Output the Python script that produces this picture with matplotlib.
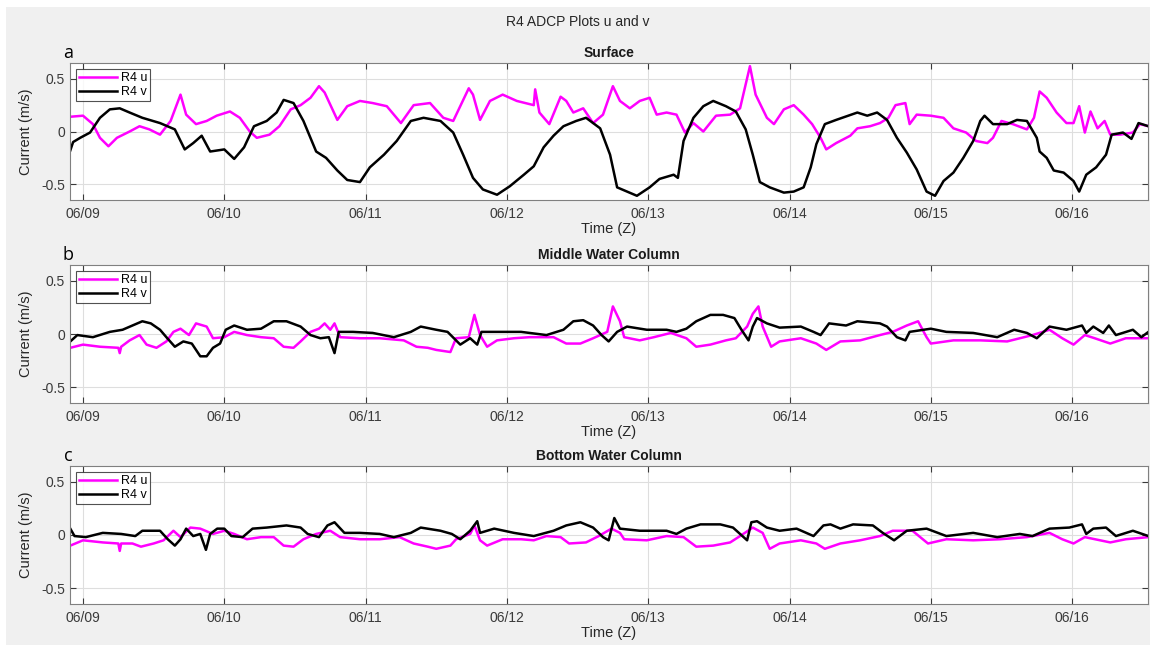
import numpy as np
import matplotlib
matplotlib.use("Agg")
import matplotlib.pyplot as plt
from matplotlib.patches import Rectangle

plt.rcParams['font.family'] = ['Liberation Sans', 'DejaVu Sans']

# time is in days after 06/09 00:00 (Z)
day_ticks = [0, 1, 2, 3, 4, 5, 6, 7]
day_labels = ["06/09", "06/10", "06/11", "06/12", "06/13", "06/14", "06/15", "06/16"]

panel_letters = ["a", "b", "c"]
panel_titles = ["Surface", "Middle Water Column", "Bottom Water Column"]

# (day, current m/s)
surf_u = [(-0.09, 0.14), (0.0, 0.15), (0.07, 0.07), (0.12, -0.06), (0.18, -0.14), (0.24, -0.06),
          (0.33, 0.0), (0.40, 0.05), (0.47, 0.02), (0.545, -0.03), (0.62, 0.10), (0.69, 0.35),
          (0.73, 0.16), (0.80, 0.07), (0.875, 0.10), (0.946, 0.15), (1.04, 0.19), (1.11, 0.13),
          (1.18, 0.0), (1.23, -0.06), (1.32, -0.03), (1.39, 0.05), (1.47, 0.21), (1.54, 0.25),
          (1.61, 0.32), (1.67, 0.43), (1.71, 0.37), (1.80, 0.11), (1.87, 0.24), (1.96, 0.29),
          (2.05, 0.27), (2.15, 0.24), (2.25, 0.08), (2.34, 0.25), (2.456, 0.27), (2.55, 0.13),
          (2.62, 0.10), (2.73, 0.41), (2.76, 0.35), (2.81, 0.11), (2.88, 0.29), (2.97, 0.35),
          (3.07, 0.29), (3.19, 0.25), (3.20, 0.40), (3.23, 0.18), (3.30, 0.07), (3.38, 0.33),
          (3.42, 0.29), (3.47, 0.18), (3.54, 0.22), (3.61, 0.08), (3.68, 0.16), (3.75, 0.43),
          (3.80, 0.29), (3.87, 0.22), (3.94, 0.29), (4.01, 0.32), (4.06, 0.16), (4.13, 0.18),
          (4.20, 0.16), (4.26, -0.01), (4.32, 0.08), (4.39, 0.0), (4.48, 0.15), (4.58, 0.16),
          (4.65, 0.22), (4.72, 0.62), (4.76, 0.35), (4.84, 0.13), (4.89, 0.07), (4.96, 0.21),
          (5.03, 0.25), (5.10, 0.16), (5.16, 0.07), (5.22, -0.06), (5.26, -0.17), (5.33, -0.11),
          (5.43, -0.04), (5.48, 0.03), (5.57, 0.05), (5.64, 0.08), (5.70, 0.13), (5.75, 0.25),
          (5.82, 0.27), (5.85, 0.07), (5.90, 0.16), (6.00, 0.15), (6.09, 0.13), (6.16, 0.03),
          (6.25, -0.01), (6.32, -0.09), (6.40, -0.11), (6.44, -0.06), (6.50, 0.10), (6.58, 0.07),
          (6.68, 0.02), (6.73, 0.13), (6.77, 0.38), (6.82, 0.32), (6.89, 0.18), (6.96, 0.08),
          (7.01, 0.08), (7.05, 0.24), (7.09, -0.01), (7.13, 0.19), (7.18, 0.03), (7.23, 0.10),
          (7.27, -0.03), (7.34, -0.03), (7.43, -0.01), (7.48, 0.07), (7.54, 0.05)]

surf_v = [(-0.09, -0.18), (-0.07, -0.10), (-0.02, -0.06), (0.05, -0.01), (0.12, 0.13), (0.19, 0.21),
          (0.26, 0.22), (0.33, 0.18), (0.42, 0.13), (0.545, 0.08), (0.65, 0.02), (0.72, -0.17),
          (0.78, -0.11), (0.84, -0.04), (0.90, -0.19), (1.0, -0.17), (1.07, -0.26), (1.14, -0.15),
          (1.21, 0.05), (1.30, 0.10), (1.37, 0.18), (1.42, 0.30), (1.49, 0.27), (1.56, 0.10),
          (1.65, -0.19), (1.72, -0.25), (1.80, -0.37), (1.87, -0.46), (1.96, -0.48), (2.03, -0.34),
          (2.13, -0.22), (2.22, -0.09), (2.32, 0.10), (2.41, 0.13), (2.53, 0.10), (2.62, -0.01),
          (2.69, -0.22), (2.76, -0.44), (2.83, -0.55), (2.93, -0.60), (3.02, -0.52), (3.12, -0.41),
          (3.19, -0.33), (3.26, -0.15), (3.33, -0.04), (3.40, 0.05), (3.49, 0.10), (3.56, 0.13),
          (3.66, 0.03), (3.73, -0.22), (3.78, -0.53), (3.85, -0.57), (3.92, -0.61), (4.01, -0.53),
          (4.08, -0.45), (4.18, -0.41), (4.21, -0.44), (4.25, -0.09), (4.32, 0.13), (4.39, 0.24),
          (4.46, 0.29), (4.55, 0.24), (4.62, 0.19), (4.69, 0.02), (4.74, -0.22), (4.79, -0.48),
          (4.86, -0.53), (4.96, -0.58), (5.03, -0.57), (5.10, -0.53), (5.15, -0.34), (5.19, -0.12),
          (5.25, 0.07), (5.33, 0.11), (5.48, 0.18), (5.55, 0.15), (5.62, 0.18), (5.69, 0.11),
          (5.76, -0.06), (5.83, -0.20), (5.90, -0.36), (5.97, -0.57), (6.03, -0.61), (6.09, -0.47),
          (6.16, -0.39), (6.23, -0.25), (6.30, -0.09), (6.35, 0.10), (6.38, 0.15), (6.44, 0.07),
          (6.54, 0.07), (6.61, 0.11), (6.68, 0.10), (6.75, -0.06), (6.77, -0.19), (6.82, -0.25),
          (6.87, -0.37), (6.94, -0.39), (7.01, -0.47), (7.05, -0.57), (7.10, -0.41), (7.17, -0.34),
          (7.24, -0.22), (7.28, -0.03), (7.36, -0.01), (7.42, -0.07), (7.47, 0.08), (7.54, 0.05)]

mid_u = [(-0.09, -0.13), (0.0, -0.10), (0.12, -0.12), (0.25, -0.13), (0.26, -0.18), (0.27, -0.12),
         (0.33, -0.06), (0.40, -0.01), (0.45, -0.10), (0.52, -0.13), (0.59, -0.07), (0.64, 0.02),
         (0.69, 0.05), (0.75, -0.01), (0.80, 0.10), (0.875, 0.07), (0.92, -0.04), (1.0, -0.03),
         (1.07, 0.02), (1.16, -0.01), (1.26, -0.03), (1.35, -0.04), (1.42, -0.12), (1.49, -0.13),
         (1.54, -0.07), (1.61, 0.02), (1.67, 0.05), (1.71, 0.10), (1.75, 0.04), (1.78, 0.10),
         (1.82, -0.03), (1.96, -0.04), (2.10, -0.04), (2.27, -0.06), (2.36, -0.12), (2.44, -0.13),
         (2.50, -0.15), (2.60, -0.17), (2.64, -0.04), (2.73, -0.03), (2.77, 0.18), (2.81, -0.01),
         (2.86, -0.12), (2.93, -0.06), (3.05, -0.04), (3.16, -0.03), (3.33, -0.03), (3.42, -0.09),
         (3.52, -0.09), (3.61, -0.04), (3.71, 0.02), (3.75, 0.26), (3.80, 0.12), (3.83, -0.03),
         (3.94, -0.06), (4.04, -0.03), (4.16, 0.01), (4.27, -0.04), (4.34, -0.12), (4.44, -0.10),
         (4.55, -0.06), (4.62, -0.04), (4.70, 0.07), (4.74, 0.19), (4.78, 0.26), (4.81, 0.07),
         (4.87, -0.12), (4.93, -0.07), (5.08, -0.04), (5.19, -0.09), (5.26, -0.15), (5.36, -0.07),
         (5.50, -0.06), (5.64, -0.01), (5.73, 0.02), (5.83, 0.08), (5.91, 0.12), (5.97, -0.03),
         (6.0, -0.09), (6.16, -0.06), (6.35, -0.06), (6.54, -0.07), (6.72, -0.01), (6.84, 0.04),
         (6.93, -0.04), (7.01, -0.10), (7.09, -0.01), (7.16, -0.04), (7.27, -0.09), (7.38, -0.04),
         (7.54, -0.04)]

mid_v = [(-0.09, -0.07), (-0.04, -0.01), (0.07, -0.03), (0.19, 0.02), (0.28, 0.04), (0.35, 0.08),
         (0.42, 0.12), (0.48, 0.10), (0.545, 0.04), (0.59, -0.03), (0.65, -0.12), (0.71, -0.07),
         (0.77, -0.09), (0.83, -0.21), (0.875, -0.21), (0.92, -0.13), (0.97, -0.09), (1.01, 0.04),
         (1.07, 0.08), (1.16, 0.04), (1.26, 0.05), (1.35, 0.12), (1.44, 0.12), (1.54, 0.07),
         (1.61, -0.01), (1.68, -0.04), (1.74, -0.03), (1.78, -0.18), (1.81, 0.02), (1.91, 0.02),
         (2.05, 0.01), (2.20, -0.03), (2.32, 0.02), (2.39, 0.07), (2.50, 0.04), (2.58, 0.02),
         (2.67, -0.10), (2.74, -0.04), (2.79, -0.10), (2.82, 0.02), (2.98, 0.02), (3.10, 0.02),
         (3.28, -0.01), (3.40, 0.04), (3.47, 0.12), (3.54, 0.13), (3.61, 0.08), (3.67, -0.01),
         (3.72, -0.07), (3.78, 0.02), (3.85, 0.07), (3.99, 0.04), (4.13, 0.04), (4.20, 0.02),
         (4.27, 0.05), (4.34, 0.12), (4.44, 0.18), (4.53, 0.18), (4.61, 0.15), (4.66, 0.04),
         (4.71, -0.06), (4.74, 0.07), (4.77, 0.15), (4.84, 0.10), (4.93, 0.06), (5.08, 0.07),
         (5.17, 0.02), (5.22, -0.01), (5.28, 0.10), (5.40, 0.08), (5.48, 0.12), (5.64, 0.10),
         (5.69, 0.07), (5.76, -0.03), (5.82, -0.06), (5.85, 0.02), (6.0, 0.05), (6.11, 0.02),
         (6.30, 0.01), (6.47, -0.03), (6.59, 0.04), (6.68, 0.01), (6.75, -0.04), (6.84, 0.07),
         (6.96, 0.04), (7.07, 0.08), (7.10, 0.01), (7.15, 0.07), (7.22, 0.01), (7.26, 0.08),
         (7.31, -0.01), (7.43, 0.04), (7.49, -0.03), (7.54, 0.02)]

bot_u = [(-0.09, -0.10), (0.0, -0.05), (0.14, -0.07), (0.25, -0.08), (0.26, -0.15), (0.27, -0.08),
         (0.35, -0.08), (0.41, -0.11), (0.50, -0.08), (0.57, -0.05), (0.64, 0.04), (0.69, -0.02),
         (0.76, 0.07), (0.83, 0.06), (0.92, 0.01), (1.0, 0.04), (1.07, 0.01), (1.16, -0.04),
         (1.26, -0.02), (1.35, -0.02), (1.42, -0.10), (1.49, -0.11), (1.56, -0.04), (1.65, 0.01),
         (1.75, 0.04), (1.82, -0.02), (1.96, -0.04), (2.10, -0.04), (2.24, -0.02), (2.34, -0.08),
         (2.44, -0.11), (2.50, -0.13), (2.60, -0.10), (2.64, -0.04), (2.74, 0.01), (2.77, 0.09),
         (2.81, -0.05), (2.86, -0.10), (2.97, -0.04), (3.10, -0.04), (3.19, -0.05), (3.28, -0.01),
         (3.38, -0.02), (3.44, -0.08), (3.56, -0.07), (3.65, -0.01), (3.74, 0.06), (3.80, 0.02),
         (3.83, -0.04), (3.99, -0.05), (4.13, -0.01), (4.25, -0.02), (4.34, -0.11), (4.46, -0.10),
         (4.58, -0.07), (4.65, -0.01), (4.74, 0.07), (4.81, 0.02), (4.86, -0.13), (4.93, -0.08),
         (5.08, -0.05), (5.19, -0.08), (5.25, -0.13), (5.36, -0.08), (5.50, -0.05), (5.64, -0.01),
         (5.73, 0.04), (5.87, 0.04), (5.98, -0.08), (6.11, -0.04), (6.30, -0.05), (6.49, -0.04),
         (6.68, -0.02), (6.84, 0.02), (6.93, -0.04), (7.01, -0.08), (7.09, -0.02), (7.27, -0.07),
         (7.38, -0.04), (7.54, -0.02)]

bot_v = [(-0.09, 0.06), (-0.06, -0.01), (0.02, -0.02), (0.14, 0.02), (0.27, 0.01), (0.37, -0.01),
         (0.42, 0.04), (0.545, 0.04), (0.60, -0.04), (0.65, -0.10), (0.69, -0.04), (0.73, 0.06),
         (0.78, -0.01), (0.83, 0.01), (0.87, -0.14), (0.90, 0.01), (0.95, 0.06), (1.0, 0.06),
         (1.05, -0.01), (1.13, -0.02), (1.20, 0.06), (1.30, 0.07), (1.44, 0.09), (1.54, 0.07),
         (1.59, 0.01), (1.67, -0.02), (1.73, 0.09), (1.78, 0.12), (1.85, 0.02), (1.96, 0.02),
         (2.10, 0.01), (2.20, -0.02), (2.32, 0.02), (2.39, 0.07), (2.53, 0.04), (2.61, 0.01),
         (2.67, -0.04), (2.74, 0.04), (2.79, 0.13), (2.81, 0.02), (2.91, 0.06), (3.05, 0.02),
         (3.19, -0.01), (3.33, 0.04), (3.42, 0.09), (3.52, 0.12), (3.61, 0.07), (3.68, -0.02),
         (3.72, -0.05), (3.76, 0.16), (3.80, 0.06), (3.94, 0.04), (4.13, 0.04), (4.20, 0.01),
         (4.27, 0.06), (4.37, 0.10), (4.51, 0.10), (4.60, 0.07), (4.65, 0.01), (4.70, -0.05),
         (4.73, 0.12), (4.77, 0.13), (4.84, 0.07), (4.93, 0.04), (5.05, 0.06), (5.17, -0.01),
         (5.24, 0.09), (5.29, 0.10), (5.36, 0.06), (5.45, 0.10), (5.59, 0.09), (5.66, 0.02),
         (5.74, -0.05), (5.83, 0.04), (5.97, 0.06), (6.11, -0.01), (6.30, 0.02), (6.47, -0.02),
         (6.63, 0.01), (6.72, -0.01), (6.84, 0.06), (6.98, 0.07), (7.07, 0.10), (7.10, 0.01),
         (7.15, 0.06), (7.24, 0.07), (7.31, -0.01), (7.43, 0.04), (7.54, -0.01)]

panels = [(surf_u, surf_v), (mid_u, mid_v), (bot_u, bot_v)]

W, H = 1150, 647
fig = plt.figure(figsize=(W / 100, H / 100), dpi=100, facecolor="white")
# grey matlab-style figure panel, kept behind the axes
fig.patches.append(Rectangle((6 / W, 2 / H), 1144 / W, 638 / H, transform=fig.transFigure,
                             facecolor="#f0f0f0", edgecolor="none", zorder=-10))

fig.text(578 / W, 1 - 22 / H, "R4 ADCP Plots u and v", ha="center", va="center",
         fontsize=10, color="#262626")

# axes boxes (top, bottom) in pixels
boxes = [(63, 200), (265, 403), (466, 604)]
left, right = 70, 1148

for i, ((top, bot), (u_pts, v_pts)) in enumerate(zip(boxes, panels)):
    ax = fig.add_axes([left / W, 1 - bot / H, (right - left) / W, (bot - top) / H], zorder=1)
    ax.set_facecolor("white")

    tu, u = np.array(u_pts).T
    tv, v = np.array(v_pts).T
    ax.plot(tu, u, color="#ff00ff", lw=1.8, label="R4 u")
    ax.plot(tv, v, color="black", lw=1.8, label="R4 v")

    ax.set_xlim(-0.092, 7.537)
    ax.set_ylim(-0.65, 0.65)
    ax.set_xticks(day_ticks)
    ax.set_xticklabels(day_labels)
    ax.set_yticks([-0.5, 0, 0.5])
    ax.set_yticklabels(["-0.5", "0", "0.5"])
    ax.grid(True, color="#dedede", lw=0.8)
    ax.set_axisbelow(True)
    ax.tick_params(direction="in", length=4, width=0.8, colors="#3a3a3a",
                   labelsize=10, top=True, right=True, labeltop=False, labelright=False)
    ax.tick_params(axis="x", pad=5)
    for s in ax.spines.values():
        s.set_color("#808080")
        s.set_linewidth(0.8)

    ax.set_ylabel("Current (m/s)", fontsize=10.5, color="#262626", labelpad=6)
    ax.set_xlabel("Time (Z)", fontsize=10.5, color="#262626", labelpad=1)
    ax.set_title(panel_titles[i], fontsize=10, fontweight="bold", color="#1a1a1a", pad=4)

    leg = ax.legend(loc="upper left", fontsize=9, frameon=True, fancybox=False,
                    handlelength=3.0, handletextpad=0.3, borderpad=0.25, labelspacing=0.15,
                    borderaxespad=0.5, edgecolor="#262626")
    leg.get_frame().set_linewidth(0.8)

    fig.text(68 / W, 1 - (top - 10) / H, panel_letters[i], ha="center", va="center",
             fontsize=13, color="black", family=["Open Sans", "DejaVu Sans"])

fig.savefig("out.png", dpi=100, facecolor=fig.get_facecolor())
